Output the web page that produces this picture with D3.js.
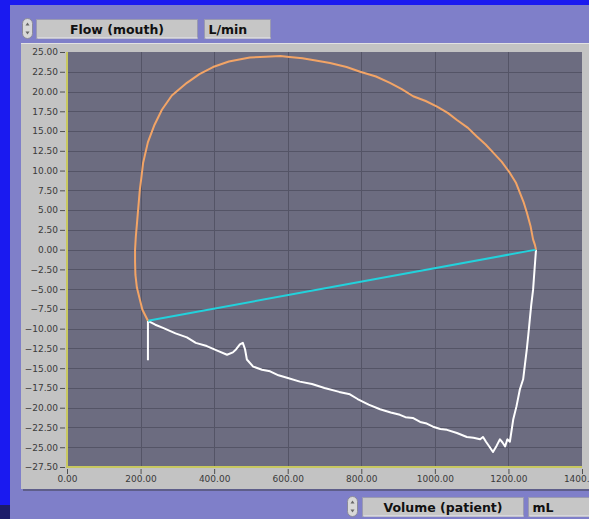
<!DOCTYPE html>
<html><head><meta charset="utf-8">
<script src="https://cdn.jsdelivr.net/npm/d3@7"></script>
<style>html,body{margin:0;padding:0;background:#7f7fc9;}svg{display:block;}</style>
</head><body>
<script>
// ---- data ----
const yLabel = "Flow (mouth)";
const yUnit = "L/min";
const xLabel = "Volume (patient)";
const xUnit = "mL";
const xTicks = [0, 200, 400, 600, 800, 1000, 1200, 1400];
const yTicks = d3.range(-27.5, 25.01, 2.5);
// inspiration loop (orange): [volume mL, flow L/min]
const inspVol  = [220, 205, 198, 190, 186, 185, 185, 187, 190, 194, 198, 203, 207, 220, 238, 258, 285, 326, 360, 397, 440, 497, 540, 580, 598, 640, 680, 715, 760, 797, 840, 878, 910, 941, 975, 1006, 1035, 1060, 1090, 1114, 1138, 1158, 1182, 1204, 1220, 1231, 1242, 1250, 1260, 1267, 1272, 1275];
const inspFlow = [-9.0, -7.6, -6.3, -4.8, -3.2, -1.5, 0.0, 1.6, 3.2, 5.4, 7.6, 9.4, 11.0, 13.6, 15.8, 17.7, 19.5, 21.1, 22.2, 23.1, 23.8, 24.3, 24.4, 24.5, 24.4, 24.2, 23.9, 23.6, 23.1, 22.5, 21.9, 21.1, 20.3, 19.4, 18.8, 18.1, 17.3, 16.4, 15.4, 14.3, 13.3, 12.3, 11.1, 9.7, 8.5, 7.2, 5.9, 4.7, 3.0, 1.3, 0.6, 0.0];
// straight connector (cyan)
const lineVol  = [220, 1275];
const lineFlow = [-9.0, 0.0];
// expiration (white)
const expVol  = [1275, 1271, 1269, 1267, 1262, 1258, 1254, 1250, 1245, 1240, 1231, 1222, 1213, 1204, 1197, 1191, 1184, 1177, 1168, 1158, 1148, 1139, 1131, 1123, 1105, 1087, 1060, 1033, 1015, 995, 978, 960, 940, 920, 905, 880, 851, 820, 790, 769, 740, 700, 666, 633, 598, 575, 552, 530, 506, 489, 484, 478, 470, 460, 451, 435, 410, 380, 350, 326, 295, 261, 240, 220];
const expFlow = [0.0, -2.5, -3.8, -5.1, -7.0, -8.9, -10.8, -12.6, -14.5, -16.4, -17.7, -19.8, -21.5, -24.3, -24.0, -24.9, -24.4, -24.0, -24.8, -25.6, -24.9, -24.3, -23.7, -24.0, -23.8, -23.7, -23.2, -22.8, -22.7, -22.4, -22.0, -21.8, -21.3, -21.2, -20.9, -20.6, -20.2, -19.6, -18.9, -18.3, -18.0, -17.5, -17.0, -16.7, -16.2, -15.9, -15.4, -15.2, -14.8, -13.9, -12.6, -11.8, -12.0, -12.6, -13.0, -13.3, -12.8, -12.2, -11.8, -11.1, -10.6, -9.9, -9.5, -9.0];
const dropVol  = [220, 220];
const dropFlow = [-9.0, -14.0];

// ---- drawing ----
const W = 589, H = 519;
const svg = d3.select("body").append("svg").attr("width", W).attr("height", H);
// backgrounds
svg.append("rect").attr("width", W).attr("height", H).attr("fill", "#7f7fc9");
svg.append("rect").attr("x", 0).attr("y", 0).attr("width", W).attr("height", 5).attr("fill", "#1a1af0");
svg.append("rect").attr("x", 0).attr("y", 0).attr("width", 10).attr("height", H).attr("fill", "#1a1af0");
svg.append("rect").attr("x", 0).attr("y", 505).attr("width", 10).attr("height", 14).attr("fill", "#1c1c6a");

// grey panel
svg.append("rect").attr("x", 23).attr("y", 45).attr("width", W - 23).attr("height", 446).attr("fill", "#5e5e8a");
svg.append("rect").attr("x", 21).attr("y", 43).attr("width", W - 21).attr("height", 446).attr("fill", "#c3c3c3");
svg.append("line").attr("x1", 21).attr("x2", W).attr("y1", 43.5).attr("y2", 43.5).attr("stroke", "#e2e2e2");

const L = 67, R = 582, T = 52, B = 467;
const x = d3.scaleLinear().domain([0, 1400]).range([L, R]);
const y = d3.scaleLinear().domain([-27.5, 25]).range([B, T]);

svg.append("rect").attr("x", L).attr("y", T).attr("width", R - L).attr("height", B - T).attr("fill", "#6c6c80");
// grid
const g = svg.append("g");
g.selectAll(".gx").data(xTicks.slice(1, -1)).join("line")
  .attr("x1", d => Math.round(x(d)) + 0.5).attr("x2", d => Math.round(x(d)) + 0.5)
  .attr("y1", T).attr("y2", B).attr("stroke", "#545466").attr("stroke-width", 1);
g.selectAll(".gy").data(yTicks.slice(1, -1)).join("line")
  .attr("y1", d => Math.round(y(d)) + 0.5).attr("y2", d => Math.round(y(d)) + 0.5)
  .attr("x1", L).attr("x2", R).attr("stroke", "#545466").attr("stroke-width", 1);

// axes lines (yellow)
svg.append("line").attr("x1", L).attr("x2", L).attr("y1", T).attr("y2", B + 1).attr("stroke", "#c8c860").attr("stroke-width", 2);
svg.append("line").attr("x1", L).attr("x2", R).attr("y1", B).attr("y2", B).attr("stroke", "#c8c860").attr("stroke-width", 2);

const fmt = d3.format(".2f");
const yAxis = svg.append("g").attr("transform", `translate(${L - 2},0)`)
  .call(d3.axisLeft(y).tickValues(yTicks).tickFormat(fmt).tickSizeInner(5).tickSizeOuter(0).tickPadding(2));
const xAxis = svg.append("g").attr("transform", `translate(0,${B + 2})`)
  .call(d3.axisBottom(x).tickValues(xTicks).tickFormat(fmt).tickSizeInner(5).tickSizeOuter(0).tickPadding(2));
[yAxis, xAxis].forEach(a => {
  a.select(".domain").remove();
  a.selectAll("line").attr("stroke", "#505050");
  a.selectAll("text").attr("fill", "#3a3a3a").style("font-family", "Tahoma, 'DejaVu Sans', sans-serif").style("font-size", "9px");
});

// curves
const line = d3.line().x(d => x(d[0])).y(d => y(d[1]));
const zip = (a, b) => a.map((v, i) => [v, b[i]]);
svg.append("path").datum(zip(dropVol, dropFlow)).attr("d", line).attr("fill", "none").attr("stroke", "#ffffff").attr("stroke-width", 2);
svg.append("path").datum(zip(expVol, expFlow)).attr("d", line).attr("fill", "none").attr("stroke", "#ffffff").attr("stroke-width", 2).attr("stroke-linejoin", "round");
svg.append("path").datum(zip(lineVol, lineFlow)).attr("d", line).attr("fill", "none").attr("stroke", "#22d2dc").attr("stroke-width", 2);
svg.append("path").datum(zip(inspVol, inspFlow)).attr("d", line).attr("fill", "none").attr("stroke", "#f2a466").attr("stroke-width", 2).attr("stroke-linejoin", "round");

// label boxes
function spin(cx, cy) {
  const s = svg.append("g");
  s.append("rect").attr("x", cx - 5).attr("y", cy - 10).attr("width", 10).attr("height", 20).attr("rx", 5)
    .attr("fill", "#d8d8d8").attr("stroke", "#8a8a9a");
  s.append("path").attr("d", `M${cx - 2},${cy - 3} L${cx},${cy - 6} L${cx + 2},${cy - 3}Z`).attr("fill", "#666");
  s.append("path").attr("d", `M${cx - 2},${cy + 3} L${cx},${cy + 6} L${cx + 2},${cy + 3}Z`).attr("fill", "#666");
}
function box(x0, y0, w, h, text, anchor) {
  svg.append("rect").attr("x", x0).attr("y", y0).attr("width", w).attr("height", h).attr("fill", "#c6c6c6")
    .attr("stroke", "#9a9ab0").attr("stroke-width", 1);
  svg.append("line").attr("x1", x0 + 1).attr("x2", x0 + w).attr("y1", y0 + h - 0.5).attr("y2", y0 + h - 0.5).attr("stroke", "#e8e8f0");
  svg.append("text").attr("x", anchor === "middle" ? x0 + w / 2 : x0 + 4).attr("y", y0 + h / 2 + 4.5)
    .attr("text-anchor", anchor).attr("fill", "#111")
    .style("font-family", "Tahoma, 'DejaVu Sans', sans-serif").style("font-weight", "bold").style("font-size", "12.5px")
    .text(text);
}
spin(27.5, 28.5);
box(36.5, 19.5, 161, 19, yLabel, "middle");
box(204.5, 19.5, 66, 19, yUnit, "start");
spin(352.5, 506.5);
box(362.5, 497.5, 161, 19, xLabel, "middle");
box(528.5, 497.5, 70, 19, xUnit, "start");
</script>
</body></html>
